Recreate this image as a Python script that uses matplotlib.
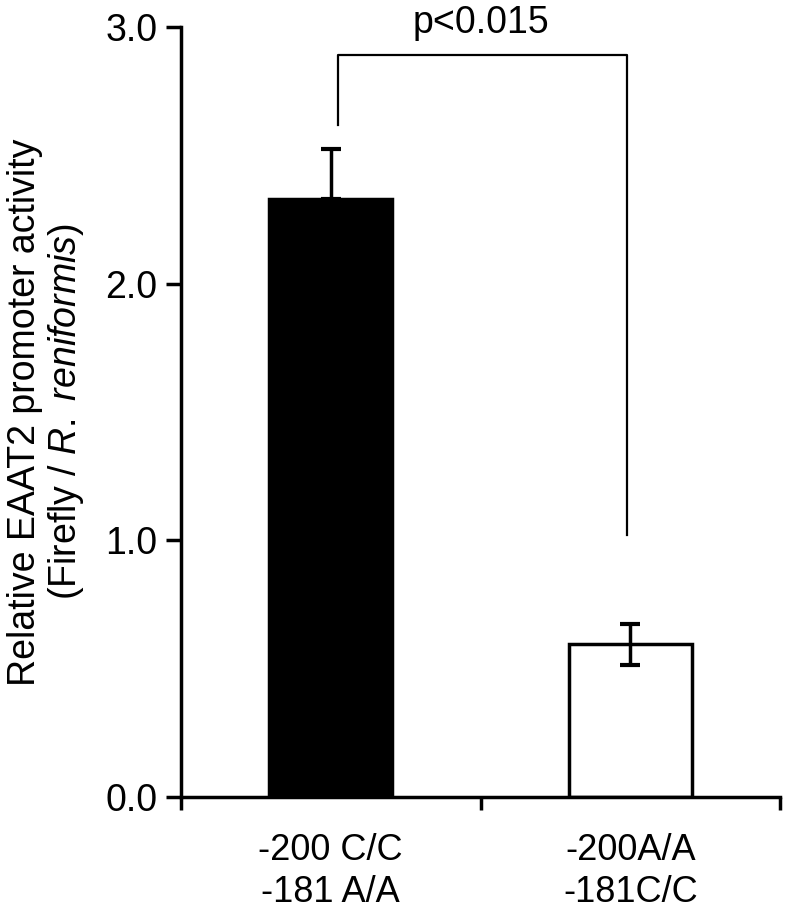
import matplotlib.pyplot as plt

plt.rcParams['font.family'] = ['Liberation Sans', 'DejaVu Sans']
plt.rcParams['mathtext.fontset'] = 'custom'
plt.rcParams['mathtext.rm'] = 'Liberation Sans'
plt.rcParams['mathtext.it'] = 'Liberation Sans:italic'

# data
groups = ['-200 C/C\n-181 A/A', '-200A/A\n-181C/C']
activity = [2.33, 0.595]
err_low = [0.0, 0.08]
err_high = [0.195, 0.08]
bar_colors = ['black', 'white']
p_text = 'p<0.015'

fig = plt.figure(figsize=(7.86, 9.09), dpi=100)
ax = fig.add_axes([0.2303, 0.1232, 0.7621, 0.8471])

pos = [0.5, 1.5]
ax.bar(pos, activity, width=0.41, color=bar_colors, edgecolor='black', linewidth=2.5, zorder=2)
ax.errorbar(pos, activity, yerr=[err_low, err_high], fmt='none', ecolor='black',
            elinewidth=2.5, capsize=7, capthick=3, zorder=3)

# significance bracket
ax.plot([0.524, 0.524, 1.49, 1.49], [2.62, 2.89, 2.89, 1.02], color='black', lw=1.6,
        clip_on=False)
ax.text(1.0, 2.975, p_text, ha='center', va='baseline', fontsize=27, clip_on=False)

ax.set_xlim(0, 2)
ax.set_ylim(0, 3.0)
ax.set_yticks([0, 1, 2, 3])
ax.set_yticklabels(['0.0', '1.0', '2.0', '3.0'])
ax.set_xticks([0, 1, 2])
ax.set_xticklabels([])
ax.set_xticks(pos, minor=True)
ax.set_xticklabels(groups, minor=True, fontsize=26, linespacing=1.25)
ax.tick_params(axis='x', which='minor', length=0, pad=26)
ax.tick_params(axis='x', which='major', length=9, width=2.5, direction='out')
ax.tick_params(axis='y', length=11, width=2.5, direction='out', labelsize=27, pad=6)

ax.set_ylabel('Relative EAAT2 promoter activity\n(Firefly / $\\it{R.}$ $\\it{reniformis}$)',
              fontsize=27, labelpad=14, linespacing=1.1)

for s in ['top', 'right']:
    ax.spines[s].set_visible(False)
for s in ['left', 'bottom']:
    ax.spines[s].set_linewidth(2.5)

fig.savefig('out.png', dpi=100)
